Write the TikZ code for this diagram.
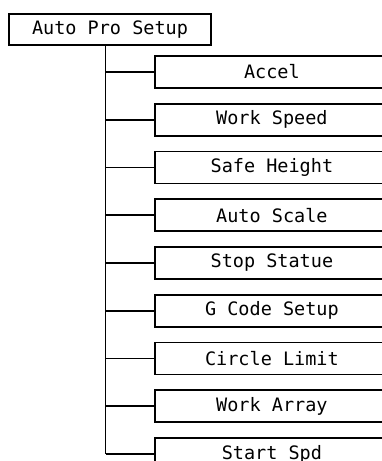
\documentclass[tikz,border=0pt]{standalone}
\usepackage{fontspec}
\setmonofont{DejaVu Sans Mono}
\begin{document}
\begin{tikzpicture}[
  x=1pt, y=-1pt,
  every node/.style={font=\ttfamily\fontsize{18.5}{20}\selectfont, align=center},
  root/.style={rectangle, draw=black, line width=1.8pt, minimum width=202pt, minimum height=31pt, inner sep=0pt},
  item/.style={rectangle, draw=black, line width=1.8pt, anchor=north west, minimum width=234pt, minimum height=32pt, inner sep=0pt},
  link/.style={line width=1.8pt, black}
]
\useasboundingbox (0,0) rectangle (382,461);
\clip (0,0) rectangle (382,461);

% Menu principal
\node[root] (setup) at (110, 29.5) {Auto Pro Setup};
\coordinate (trunk) at (105.5, 45);

% Sous-menus
\foreach \lbl [count=\n] in {Accel, Work Speed, Safe Height, Auto Scale, Stop Statue, G Code Setup, Circle Limit, Work Array, Start Spd} {
  \node[item] (c\n) at (154, {55+47.75*(\n-1)}) {\lbl};
  \draw[link] (trunk |- c\n.west) -- (c\n.west);
}

% Tronc
\draw[link] (trunk) -- (trunk |- c9.west);
\end{tikzpicture}
\end{document}
